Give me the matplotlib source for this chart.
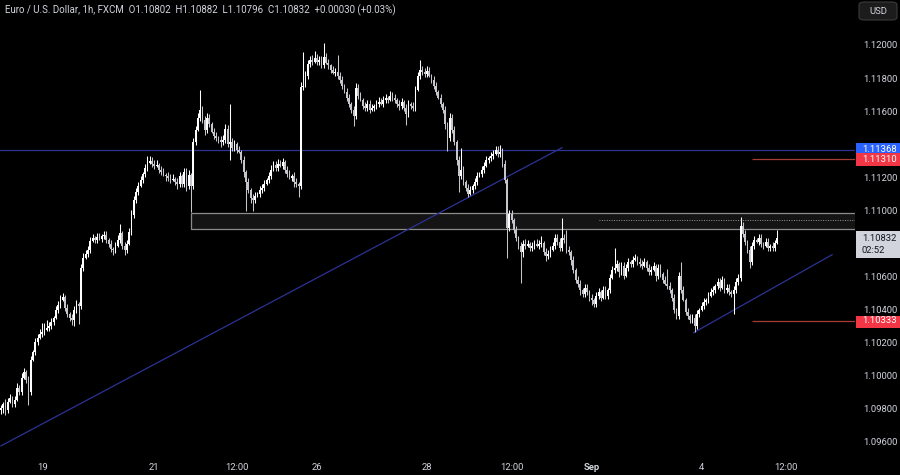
import numpy as np
import matplotlib
matplotlib.use("Agg")
import matplotlib.pyplot as plt
from matplotlib.patches import Rectangle, FancyBboxPatch

# EUR/USD 1h candles (closes, oldest first)
closes = [
    1.09806, 1.09831, 1.09794, 1.09843, 1.09867, 1.09831, 1.09855, 1.09927, 1.09903, 1.09988,
    1.10024, 1.09976, 1.09903, 1.10097, 1.10145, 1.10206, 1.10230, 1.10254, 1.10266, 1.10278,
    1.10290, 1.10303, 1.10327, 1.10351, 1.10399, 1.10430, 1.10460, 1.10478, 1.10411, 1.10375,
    1.10351, 1.10339, 1.10399, 1.10436, 1.10424, 1.10653, 1.10714, 1.10738, 1.10762, 1.10817,
    1.10835, 1.10823, 1.10841, 1.10829, 1.10847, 1.10853, 1.10823, 1.10799, 1.10768, 1.10762,
    1.10787, 1.10823, 1.10865, 1.10787, 1.10762, 1.10799, 1.10871, 1.10974, 1.11065, 1.11113,
    1.11150, 1.11186, 1.11222, 1.11258, 1.11289, 1.11301, 1.11283, 1.11271, 1.11277, 1.11246,
    1.11234, 1.11216, 1.11210, 1.11198, 1.11186, 1.11192, 1.11174, 1.11162, 1.11210, 1.11162,
    1.11234, 1.11150, 1.11216, 1.11150, 1.11416, 1.11488, 1.11561, 1.11609, 1.11549, 1.11488,
    1.11561, 1.11525, 1.11476, 1.11452, 1.11440, 1.11428, 1.11416, 1.11428, 1.11494, 1.11404,
    1.11416, 1.11379, 1.11404, 1.11367, 1.11355, 1.11307, 1.11234, 1.11174, 1.11125, 1.11077,
    1.11065, 1.11089, 1.11101, 1.11125, 1.11137, 1.11162, 1.11186, 1.11210, 1.11246, 1.11277,
    1.11258, 1.11283, 1.11271, 1.11295, 1.11246, 1.11222, 1.11198, 1.11210, 1.11174, 1.11162,
    1.11150, 1.11748, 1.11755, 1.11815, 1.11888, 1.11912, 1.11900, 1.11924, 1.11900, 1.11912,
    1.11882, 1.11930, 1.11894, 1.11876, 1.11851, 1.11833, 1.11839, 1.11815, 1.11791, 1.11755,
    1.11718, 1.11682, 1.11646, 1.11609, 1.11573, 1.11742, 1.11694, 1.11670, 1.11634, 1.11621,
    1.11646, 1.11609, 1.11621, 1.11634, 1.11646, 1.11658, 1.11646, 1.11670, 1.11682, 1.11670,
    1.11694, 1.11682, 1.11670, 1.11646, 1.11634, 1.11658, 1.11621, 1.11585, 1.11646, 1.11634,
    1.11621, 1.11730, 1.11815, 1.11851, 1.11839, 1.11827, 1.11845, 1.11815, 1.11791, 1.11755,
    1.11718, 1.11682, 1.11646, 1.11609, 1.11525, 1.11440, 1.11561, 1.11488, 1.11416, 1.11307,
    1.11210, 1.11246, 1.11174, 1.11137, 1.11101, 1.11125, 1.11150, 1.11174, 1.11210, 1.11222,
    1.11246, 1.11271, 1.11307, 1.11319, 1.11331, 1.11343, 1.11367, 1.11343, 1.11355, 1.11283,
    1.11186, 1.10895, 1.10980, 1.10944, 1.10883, 1.10835, 1.10787, 1.10750, 1.10799, 1.10787,
    1.10799, 1.10774, 1.10787, 1.10799, 1.10787, 1.10799, 1.10805, 1.10750, 1.10726, 1.10738,
    1.10762, 1.10787, 1.10835, 1.10811, 1.10774, 1.10835, 1.10823, 1.10762, 1.10750, 1.10702,
    1.10641, 1.10581, 1.10557, 1.10520, 1.10496, 1.10532, 1.10508, 1.10472, 1.10460, 1.10436,
    1.10484, 1.10508, 1.10472, 1.10520, 1.10484, 1.10520, 1.10593, 1.10641, 1.10653, 1.10678,
    1.10629, 1.10666, 1.10605, 1.10653, 1.10690, 1.10678, 1.10702, 1.10714, 1.10690, 1.10678,
    1.10666, 1.10690, 1.10653, 1.10629, 1.10641, 1.10666, 1.10605, 1.10653, 1.10617, 1.10581,
    1.10557, 1.10545, 1.10520, 1.10472, 1.10399, 1.10363, 1.10605, 1.10520, 1.10460, 1.10387,
    1.10363, 1.10339, 1.10351, 1.10303, 1.10375, 1.10399, 1.10424, 1.10448, 1.10460, 1.10484,
    1.10508, 1.10520, 1.10545, 1.10569, 1.10532, 1.10581, 1.10520, 1.10532, 1.10508, 1.10496,
    1.10520, 1.10569, 1.10593, 1.10908, 1.10859, 1.10811, 1.10762, 1.10690, 1.10787, 1.10823,
    1.10811, 1.10835, 1.10799, 1.10787, 1.10811, 1.10774, 1.10787, 1.10774, 1.10802, 1.10832,
]
first_open = 1.09790

# wick lengths beyond the body, in pips
wick_up = [
    2, 1, 3, 2, 2, 1, 2, 3, 2, 3, 2, 1, 2, 2, 1, 2, 2, 3, 5, 4,
    5, 2, 2, 1, 2, 2, 3, 2, 1, 2, 1, 2, 2, 2, 1, 2, 3, 2, 2, 2,
    2, 1, 2, 2, 1, 2, 2, 1, 2, 1, 2, 3, 5, 1, 2, 2, 2, 3, 2, 2,
    2, 2, 1, 2, 4, 3, 2, 2, 3, 1, 2, 2, 1, 2, 2, 3, 1, 2, 2, 1,
    2, 2, 3, 1, 2, 2, 3, 12, 2, 2, 3, 2, 1, 2, 2, 1, 2, 3, 3, 2,
    23, 2, 2, 1, 2, 1, 2, 1, 2, 1, 2, 2, 1, 2, 2, 2, 1, 2, 3, 2,
    2, 3, 2, 2, 1, 2, 2, 1, 2, 2, 1, 3, 20, 3, 2, 2, 3, 4, 2, 2,
    2, 8, 2, 2, 1, 2, 2, 10, 2, 2, 1, 2, 2, 1, 2, 3, 2, 2, 1, 2,
    2, 2, 2, 1, 2, 3, 2, 2, 2, 1, 3, 2, 2, 1, 2, 2, 1, 2, 2, 1,
    2, 2, 2, 6, 2, 2, 3, 2, 1, 2, 2, 1, 2, 1, 2, 1, 3, 2, 2, 1,
    2, 13, 2, 1, 2, 2, 1, 2, 2, 1, 2, 2, 2, 1, 2, 2, 2, 2, 4, 2,
    2, 1, 2, 2, 1, 2, 1, 2, 2, 3, 2, 1, 2, 2, 3, 2, 4, 1, 2, 2,
    2, 2, 2, 2, 2, 12, 2, 6, 2, 1, 2, 1, 2, 2, 1, 2, 2, 1, 2, 1,
    2, 2, 1, 2, 2, 1, 2, 2, 12, 2, 1, 2, 2, 2, 2, 1, 2, 2, 1, 2,
    2, 2, 1, 2, 2, 2, 1, 2, 2, 1, 2, 9, 2, 1, 2, 1, 2, 8, 2, 1,
    2, 1, 2, 2, 2, 1, 2, 2, 1, 2, 2, 2, 1, 2, 2, 2, 1, 2, 2, 1,
    2, 2, 2, 5, 2, 2, 1, 2, 2, 2, 1, 2, 2, 1, 2, 2, 1, 2, 2, 5,
]
wick_dn = [
    2, 3, 3, 2, 1, 2, 2, 1, 2, 2, 1, 2, 8, 2, 1, 2, 2, 1, 2, 2,
    1, 2, 2, 2, 1, 2, 2, 1, 2, 2, 2, 3, 4, 2, 11, 2, 2, 1, 2, 2,
    1, 2, 2, 1, 2, 2, 2, 2, 2, 3, 2, 1, 2, 2, 3, 2, 1, 2, 2, 2,
    2, 1, 2, 2, 2, 1, 2, 2, 1, 2, 2, 1, 3, 2, 2, 1, 2, 3, 2, 2,
    2, 3, 2, 16, 2, 2, 1, 2, 2, 3, 2, 2, 1, 2, 2, 2, 3, 2, 2, 2,
    10, 2, 2, 2, 1, 2, 3, 18, 2, 3, 7, 2, 1, 2, 2, 2, 1, 2, 2, 1,
    2, 2, 1, 2, 2, 2, 1, 2, 3, 2, 7, 2, 2, 1, 2, 2, 2, 1, 2, 2,
    2, 2, 1, 2, 2, 1, 2, 2, 2, 2, 1, 2, 2, 2, 6, 2, 2, 1, 2, 2,
    2, 2, 1, 2, 2, 2, 1, 2, 2, 2, 1, 2, 2, 2, 3, 2, 2, 7, 2, 2,
    2, 2, 1, 2, 2, 2, 2, 1, 2, 2, 2, 1, 2, 2, 3, 8, 2, 2, 2, 3,
    10, 2, 2, 2, 2, 1, 2, 2, 2, 1, 2, 2, 1, 2, 2, 2, 1, 2, 2, 2,
    2, 18, 2, 2, 2, 2, 2, 19, 3, 2, 1, 2, 2, 2, 1, 2, 2, 2, 3, 2,
    2, 1, 2, 2, 2, 2, 2, 2, 2, 3, 2, 2, 2, 3, 2, 2, 2, 2, 3, 2,
    2, 2, 2, 1, 2, 2, 2, 1, 2, 2, 3, 2, 2, 1, 2, 2, 2, 1, 2, 2,
    2, 1, 2, 2, 2, 1, 3, 2, 2, 2, 1, 2, 2, 2, 2, 2, 2, 2, 1, 2,
    2, 2, 2, 4, 2, 2, 1, 2, 2, 2, 1, 2, 2, 2, 2, 1, 2, 2, 2, 2,
    12, 2, 2, 2, 2, 2, 2, 4, 2, 2, 1, 2, 2, 2, 1, 2, 2, 2, 2, 0.6,
]

time_ticks = [18, 67, 103, 138, 186, 223, 258, 306, 343]
time_labels = ["19", "21", "12:00", "26", "28", "12:00", "Sep", "4", "12:00"]
# 1.108 and 1.114 sit under the price tags, so the reference doesn't show them
price_ticks = [1.096, 1.098, 1.100, 1.102, 1.104, 1.106,
               1.110, 1.112, 1.116, 1.118, 1.120]

# drawings
resistance = 1.11368
red_levels = [1.11310, 1.10333]
zone_bottom, zone_top, zone_start = 1.10889, 1.10986, 83
dotted_level, dotted_start = 1.10944, 261
trend_1 = [(0, 1.09576), (245, 1.11379)]
trend_2 = [(302.5, 1.10260), (363, 1.10732)]
red_start = 328
title = ("Euro / U.S. Dollar, 1h, FXCM  O1.10802  H1.10882  L1.10796  "
         "C1.10832  +0.00030 (+0.03%)")

plt.rcParams["font.family"] = ["Roboto", "DejaVu Sans"]
txt = "#d1d4dc"
fs = 6.8

closes = np.array(closes)
opens = np.concatenate([[first_open], closes[:-1]])
highs = np.maximum(opens, closes) + np.array(wick_up) * 0.0001
lows = np.minimum(opens, closes) - np.array(wick_dn) * 0.0001
idx = np.arange(len(closes))

W, H = 900, 475
fig = plt.figure(figsize=(9, 4.75), dpi=100, facecolor="black")
ax = fig.add_axes([0, 23 / H, 855 / W, 452 / H])
ax.set_facecolor("black")
ax.set_xlim(-0.4, 373.0)
ax.set_ylim(1.09539, 1.12272)
for s in ax.spines.values():
    s.set_visible(False)

# zone box
ax.add_patch(Rectangle((zone_start, zone_bottom), 400, zone_top - zone_bottom,
                       facecolor="#141414", edgecolor="#8c8c8c", lw=0.9, zorder=1))
ax.hlines(dotted_level, dotted_start, 373, colors="#9598a1", lw=0.7,
          linestyles=(0, (1, 1.5)), zorder=2)
ax.axhline(resistance, color="#2b3394", lw=0.9, zorder=2)
for lv in red_levels:
    ax.hlines(lv, red_start, 373, colors="#a33d36", lw=0.9, zorder=2)
for tl in (trend_1, trend_2):
    ax.plot([tl[0][0], tl[1][0]], [tl[0][1], tl[1][1]], color="#2b3394", lw=0.9, zorder=2)

# candles
up = closes >= opens
cols = np.where(up, "#ffffff", "#c4c6cc")
ax.vlines(idx, lows, highs, colors=cols, lw=0.75, zorder=3)
body = np.maximum(np.abs(closes - opens), 0.00003)
ax.bar(idx, body, bottom=np.minimum(opens, closes), width=0.75,
       color=cols, lw=0, zorder=4)

# axes labels
ax.set_xticks(time_ticks)
ax.set_xticklabels(time_labels)
for lab in ax.get_xticklabels():
    if lab.get_text() == "Sep":
        lab.set_fontweight("bold")
ax.tick_params(axis="x", length=0, pad=8, labelsize=fs, labelcolor=txt)
ax.yaxis.tick_right()
ax.set_yticks(price_ticks)
ax.set_yticklabels([f"{p:.5f}" for p in price_ticks])
ax.tick_params(axis="y", length=0, pad=6, labelsize=fs, labelcolor=txt)

fig.text(5 / W, 1 - 10 / H, title, color=txt, fontsize=7, ha="left", va="center")

# USD badge
fig.add_artist(FancyBboxPatch((859 / W, 1 - 20 / H), 38 / W, 18 / H,
                              boxstyle="round,pad=0,rounding_size=0.006",
                              transform=fig.transFigure, facecolor="#1c1c1c",
                              edgecolor="#3a3a3a", lw=0.8))
fig.text(878 / W, 1 - 11 / H, "USD", color=txt, fontsize=fs, ha="center", va="center")


def tag(price, lines, bg, fg, above=7, below=7):
    y = ax.transData.transform((0, price))[1]
    fig.add_artist(Rectangle((856 / W, (y - below) / H), 44 / W, (above + below) / H,
                             transform=fig.transFigure, facecolor=bg, lw=0, zorder=5))
    for k, s in enumerate(lines):
        fig.text(862 / W, (y - 12 * k) / H, s, color=fg, fontsize=fs,
                 ha="left", va="center", zorder=6)


tag(resistance, ["1.11368"], "#2962ff", "white")
tag(red_levels[0], ["1.11310"], "#f23645", "white", above=6)
tag(red_levels[1], ["1.10333"], "#f23645", "white", above=5)
tag(closes[-1], ["1.10832", "02:52"], "#d1d4dc", "#131722", above=7, below=20)

fig.savefig("out.png", dpi=100, facecolor="black")
